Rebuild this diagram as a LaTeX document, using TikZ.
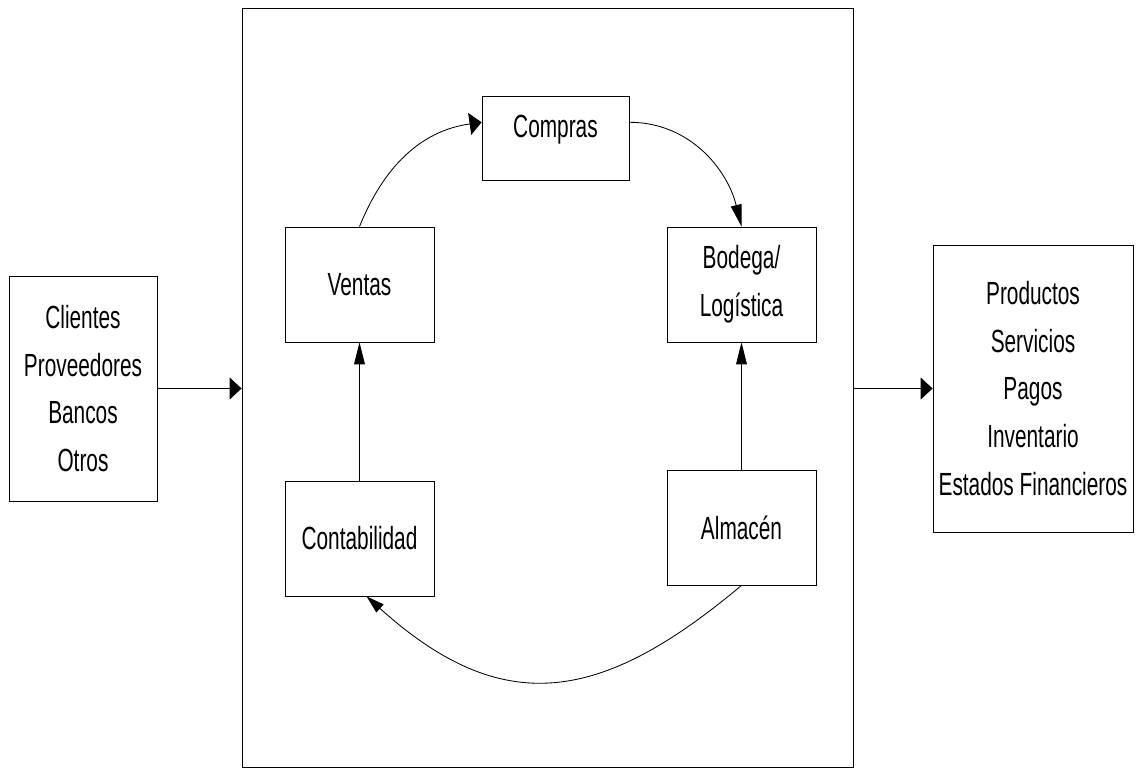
\documentclass[tikz,border=0pt]{standalone}
\usepackage{fontspec}
\setmainfont[FakeStretch=0.65]{Liberation Sans}
\usetikzlibrary{arrows.meta}

\begin{document}
\begin{tikzpicture}[
    area/.style={rectangle, draw=black, line width=0.6pt,
                 minimum width=3.725cm, minimum height=2.875cm, align=center,
                 font=\fontsize{22.8}{34}\selectfont},
    ext/.style={rectangle, draw=black, line width=0.6pt, align=center,
                font=\fontsize{22.8}{34}\selectfont},
    harrow/.style={-{Triangle[length=0.3cm, width=0.55cm]}, line width=0.6pt},
    varrow/.style={-{Triangle[length=0.55cm, width=0.27cm]}, line width=0.6pt}
]
    \useasboundingbox (0,0) rectangle (28.4,19.25);

    % Company frame
    \node[draw=black, line width=0.6pt, minimum width=15.275cm,
          minimum height=18.975cm] (empresa) at (13.6875, 9.5625) {};

    % Inputs and outputs
    \node[ext, minimum width=3.7cm, minimum height=5.625cm] (entradas)
        at (2.075, 9.5375) {Clientes\\Proveedores\\Bancos\\Otros};
    \node[ext, minimum width=5cm, minimum height=7.175cm] (salidas)
        at (25.825, 9.5375)
        {Productos\\Servicios\\Pagos\\Inventario\\Estados Financieros};

    % Areas
    \node[area, minimum width=3.675cm, minimum height=2.1cm, text depth=0.6cm]
        (compras) at (13.8875, 15.8) {Compras};
    \node[area] (ventas)   at ( 8.9875, 12.1375) {Ventas};
    \node[area] (bodega)   at (18.5375, 12.1375) {Bodega/\\Logística};
    \node[area] (conta)    at ( 8.9875,  5.7875) {Contabilidad};
    \node[area] (almacen)  at (18.5375,  6.0625) {Almacén};

    % Arrows in and out of the frame
    \draw[harrow] (entradas.east) -- (entradas.east -| empresa.west);
    \draw[harrow] (salidas.west -| empresa.east) -- (salidas.west);

    % Cycle between areas
    \draw[harrow] (ventas.north) to[out=68, in=188] (compras.168);
    \draw[varrow] (compras.12) to[out=0, in=104] (bodega.north);
    \draw[varrow] (almacen.north) -- (bodega.south);
    \draw[varrow, -{Triangle[length=0.45cm, width=0.27cm]}]
        (almacen.south) to[out=220, in=318, looseness=1.25] (conta.-83);
    \draw[varrow] (conta.north) -- (ventas.south);

\end{tikzpicture}
\end{document}
